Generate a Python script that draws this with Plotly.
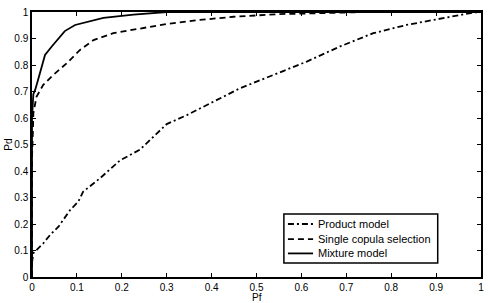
import plotly.graph_objects as go

# Product model (dash-dot)
prod_x = [0.0, 0.003, 0.025, 0.04, 0.059, 0.085, 0.103, 0.114, 0.151, 0.196, 0.24,
          0.30, 0.345, 0.411, 0.463, 0.537, 0.612, 0.686, 0.76, 0.834, 0.909, 0.983, 1.0]
prod_y = [0.054, 0.09, 0.127, 0.158, 0.19, 0.253, 0.284, 0.322, 0.372, 0.44, 0.48,
          0.577, 0.611, 0.668, 0.712, 0.762, 0.813, 0.87, 0.92, 0.951, 0.976, 0.998, 1.0]

# Single copula selection (dashed)
single_x = [0.0, 0.0, 0.002, 0.003, 0.01, 0.025, 0.047, 0.077, 0.107, 0.137, 0.181,
            0.24, 0.30, 0.374, 0.449, 0.55, 0.65, 0.75, 0.9, 1.0]
single_y = [0.0, 0.45, 0.55, 0.618, 0.68, 0.725, 0.762, 0.806, 0.857, 0.894, 0.92,
            0.938, 0.955, 0.97, 0.982, 0.992, 0.997, 1.0, 1.0, 1.0]

# Mixture model (solid)
mix_x = [0.0, 0.0, 0.003, 0.007, 0.012, 0.018, 0.024, 0.029, 0.044, 0.059, 0.073, 0.096,
         0.122, 0.159, 0.226, 0.30, 0.5, 0.75, 1.0]
mix_y = [0.0, 0.6, 0.69, 0.706, 0.735, 0.769, 0.81, 0.838, 0.87, 0.9, 0.928, 0.951,
         0.963, 0.978, 0.99, 1.0, 1.0, 1.0, 1.0]

series_names = ["Product model", "Single copula selection", "Mixture model"]
series_dash = ["6px,3px,2px,3px", "6px,4px", "solid"]

ticks = [0, 0.1, 0.2, 0.3, 0.4, 0.5, 0.6, 0.7, 0.8, 0.9, 1]
tick_text = ["0", "0.1", "0.2", "0.3", "0.4", "0.5", "0.6", "0.7", "0.8", "0.9", "1"]

FONT = "Liberation Sans, Arial, Helvetica"

fig = go.Figure()
for xs, ys, nm, ds in zip([prod_x, single_x, mix_x], [prod_y, single_y, mix_y],
                          series_names, series_dash):
    fig.add_trace(go.Scatter(x=xs, y=ys, mode="lines", name=nm, showlegend=False,
                             line=dict(color="black", width=1.8, dash=ds)))

axis_common = dict(range=[0, 1], tickvals=ticks, ticktext=tick_text, ticks="inside",
                   ticklen=4, tickwidth=1, tickcolor="black", showline=True, linecolor="black",
                   linewidth=1.5, mirror="ticks", showgrid=False, zeroline=False,
                   automargin=False,
                   tickfont=dict(size=10, color="black", family=FONT))
fig.update_xaxes(**axis_common)
fig.update_yaxes(**axis_common)

# axis titles
fig.add_annotation(text="Pf", xref="paper", yref="paper", x=0.5, y=-0.076,
                   showarrow=False, xanchor="center", yanchor="middle",
                   font=dict(size=10, color="black", family=FONT))
fig.add_annotation(text="Pd", xref="paper", yref="paper", x=-0.053, y=0.5,
                   showarrow=False, xanchor="center", yanchor="middle", textangle=-90,
                   font=dict(size=10, color="black", family=FONT))

# legend box (drawn manually for compact item spacing)
lx0, lx1 = 0.561, 0.9036
ly0, ly1 = 0.053, 0.238
fig.add_shape(type="rect", xref="paper", yref="paper", x0=lx0, x1=lx1, y0=ly0, y1=ly1,
              line=dict(color="black", width=1.5), fillcolor="white", layer="above")
item_y = [0.200, 0.143, 0.089]
for yy, nm, ds in zip(item_y, series_names, series_dash):
    fig.add_shape(type="line", xref="paper", yref="paper", x0=0.570, x1=0.626, y0=yy, y1=yy,
                  line=dict(color="black", width=1.8, dash=ds), layer="above")
    fig.add_annotation(text=nm, xref="paper", yref="paper", x=0.6315, y=yy,
                       showarrow=False, xanchor="left", yanchor="middle",
                       font=dict(size=11, color="black", family=FONT))

fig.update_layout(
    width=490, height=303,
    margin=dict(l=32, r=9, t=12, b=26),
    plot_bgcolor="white", paper_bgcolor="white",
    font=dict(family=FONT, size=10, color="black"),
    showlegend=False,
)

fig.write_html("out.html")
